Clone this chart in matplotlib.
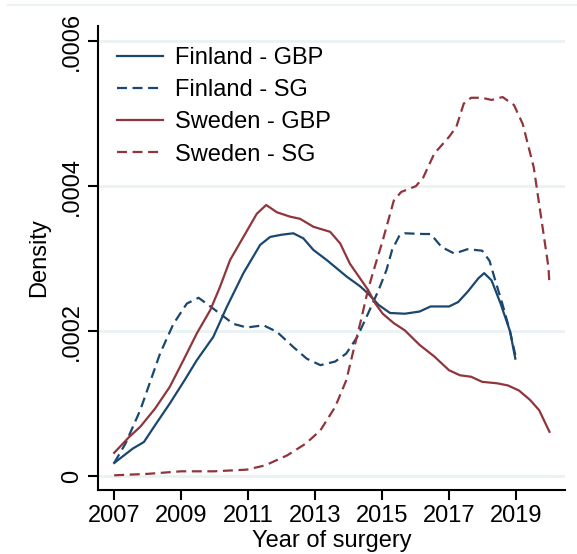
import matplotlib
matplotlib.use("Agg")
import matplotlib.pyplot as plt
from matplotlib.lines import Line2D

plt.rcParams['font.family'] = ['Liberation Sans', 'DejaVu Sans']

# Finland - GBP
fin_gbp_x = [2007.0, 2007.56, 2007.89, 2008.22, 2008.66, 2009.1, 2009.47, 2009.96, 2010.36, 2010.86,
             2011.36, 2011.66, 2012.0, 2012.35, 2012.65, 2012.95, 2013.35, 2013.95, 2014.34, 2014.58,
             2014.9, 2015.24, 2015.68, 2016.12, 2016.45, 2017.0, 2017.27, 2017.55, 2017.88, 2018.05,
             2018.27, 2018.54, 2018.82, 2018.98]
fin_gbp_y = [0.000018, 0.000038, 0.000047, 0.000070, 0.000100, 0.000132, 0.000160, 0.000192, 0.000233, 0.000280,
             0.000319, 0.000330, 0.000333, 0.000335, 0.000328, 0.000312, 0.000298, 0.000275, 0.000262, 0.000252,
             0.000236, 0.000225, 0.000224, 0.000227, 0.000234, 0.000234, 0.000240, 0.000254, 0.000273, 0.000280,
             0.000270, 0.000238, 0.000200, 0.000162]

# Finland - SG
fin_sg_x = [2007.0, 2007.34, 2007.78, 2008.37, 2008.77, 2009.17, 2009.52, 2009.96, 2010.56, 2010.96,
            2011.46, 2011.86, 2012.35, 2012.75, 2013.16, 2013.6, 2013.93, 2014.26, 2014.58, 2014.9,
            2015.13, 2015.3, 2015.52, 2015.68, 2016.23, 2016.45, 2016.78, 2017.16, 2017.55, 2017.99,
            2018.21, 2018.38, 2018.59, 2018.82, 2018.98]
fin_sg_y = [0.000018, 0.000045, 0.000091, 0.000169, 0.000210, 0.000238, 0.000246, 0.000231, 0.000210, 0.000205,
            0.000208, 0.000199, 0.000178, 0.000162, 0.000153, 0.000158, 0.000169, 0.000192, 0.000224, 0.000257,
            0.000284, 0.000312, 0.000332, 0.000335, 0.000334, 0.000334, 0.000316, 0.000307, 0.000313, 0.000311,
            0.000297, 0.000270, 0.000238, 0.000200, 0.000167]

# Sweden - GBP
swe_gbp_x = [2007.0, 2007.45, 2007.78, 2008.22, 2008.66, 2009.07, 2009.47, 2009.87, 2010.16, 2010.46,
             2010.86, 2011.26, 2011.54, 2011.86, 2012.25, 2012.55, 2012.95, 2013.45, 2013.75, 2014.04,
             2014.34, 2014.58, 2014.8, 2015.02, 2015.35, 2015.68, 2016.12, 2016.56, 2017.0, 2017.33,
             2017.66, 2017.99, 2018.43, 2018.76, 2019.09, 2019.42, 2019.69, 2020.0]
swe_gbp_y = [0.000032, 0.000054, 0.000068, 0.000093, 0.000123, 0.000160, 0.000197, 0.000229, 0.000261, 0.000298,
             0.000330, 0.000362, 0.000374, 0.000364, 0.000358, 0.000355, 0.000344, 0.000337, 0.000321, 0.000293,
             0.000273, 0.000257, 0.000238, 0.000224, 0.000211, 0.000201, 0.000181, 0.000165, 0.000146, 0.000139,
             0.000137, 0.000130, 0.000128, 0.000125, 0.000118, 0.000105, 0.000091, 0.000061]

# Sweden - SG
swe_sg_x = [2007.0, 2008.0, 2009.0, 2009.97, 2010.96, 2011.51, 2012.17, 2012.72, 2013.16, 2013.6,
            2013.93, 2014.15, 2014.37, 2014.58, 2014.75, 2015.02, 2015.35, 2015.57, 2016.01, 2016.23,
            2016.56, 2017.0, 2017.22, 2017.44, 2017.66, 2017.99, 2018.27, 2018.6, 2018.94, 2019.2,
            2019.53, 2019.75, 2019.97, 2020.0]
swe_sg_y = [0.000001, 0.000003, 0.0000065, 0.0000065, 0.0000088, 0.0000147, 0.0000286, 0.0000447, 0.0000631, 0.0000954,
            0.000132, 0.000174, 0.000215, 0.000257, 0.000284, 0.000325, 0.000380, 0.000392, 0.000400, 0.000412,
            0.000445, 0.000468, 0.000482, 0.000514, 0.000522, 0.000522, 0.000519, 0.000523, 0.000512, 0.000486,
            0.000426, 0.000357, 0.000288, 0.000264]

x_ticks = [2007, 2009, 2011, 2013, 2015, 2017, 2019]
y_ticks = [0, 0.0002, 0.0004, 0.0006]
y_tick_labels = ["0", ".0002", ".0004", ".0006"]
series_labels = ["Finland - GBP", "Finland - SG", "Sweden - GBP", "Sweden - SG"]

navy = "#1a476f"
maroon = "#90353b"
grid_c = "#eaf2f3"

fig = plt.figure(figsize=(5.77, 5.54), dpi=100)
ax = fig.add_axes([0.170, 0.1155, 0.809, 0.8375])

lw = 1.6
dash = (0, (4.5, 2.5))
ax.plot(fin_gbp_x, fin_gbp_y, color=navy, lw=lw, label=series_labels[0])
ax.plot(fin_sg_x, fin_sg_y, color=navy, lw=lw, ls=dash, label=series_labels[1])
ax.plot(swe_gbp_x, swe_gbp_y, color=maroon, lw=lw, label=series_labels[2])
ax.plot(swe_sg_x, swe_sg_y, color=maroon, lw=lw, ls=dash, label=series_labels[3])

ax.set_xlim(2006.52, 2020.46)
ax.set_ylim(-0.0000193, 0.000621)
ax.set_xticks(x_ticks)
ax.set_xticklabels([str(t) for t in x_ticks])
ax.set_yticks(y_ticks)
ax.set_yticklabels(y_tick_labels, rotation=90, va='center')
for y in y_ticks:
    ax.axhline(y, color=grid_c, lw=2, zorder=0)

for s in ['top', 'right']:
    ax.spines[s].set_visible(False)
for s in ['left', 'bottom']:
    ax.spines[s].set_linewidth(1.5)
ax.tick_params(axis='both', direction='out', length=7, width=1.5, labelsize=17, pad=4)
ax.set_xlabel("Year of surgery", fontsize=17, labelpad=2)
ax.set_ylabel("Density", fontsize=17, labelpad=8)

leg = ax.legend(loc='upper left', bbox_to_anchor=(0.01, 0.985), frameon=False, fontsize=17,
                handlelength=1.95, handletextpad=0.5, labelspacing=0.43, borderaxespad=0.2)

fig.add_artist(Line2D([8 / 577, 1.0], [1 - 5 / 554, 1 - 5 / 554], color=grid_c, lw=1.5,
                      transform=fig.transFigure))

fig.savefig("out.png", dpi=100, facecolor="white")
